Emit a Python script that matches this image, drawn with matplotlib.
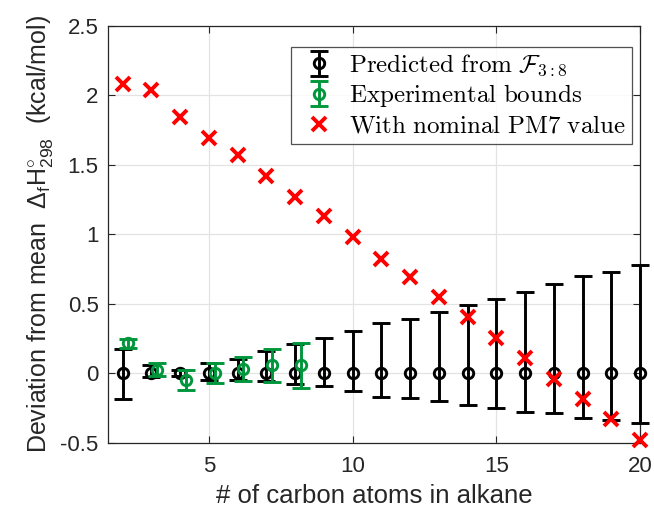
import matplotlib
matplotlib.use("Agg")
import matplotlib.pyplot as plt
from matplotlib.font_manager import FontProperties
from matplotlib.ticker import FuncFormatter

plt.rcParams["font.family"] = ["Liberation Sans", "DejaVu Sans"]
plt.rcParams["mathtext.fontset"] = "custom"
plt.rcParams["mathtext.rm"] = "Liberation Sans"
plt.rcParams["mathtext.it"] = "Liberation Sans:italic"
plt.rcParams["axes.unicode_minus"] = False

# predicted spread from the 3:8 fit (mean sits at zero)
n_pred = list(range(2, 21))
pred_mean = [0.0] * 19
pred_upper = [0.17, 0.06, 0.02, 0.07, 0.10, 0.16, 0.21, 0.25, 0.30, 0.36,
              0.39, 0.44, 0.49, 0.53, 0.58, 0.64, 0.70, 0.73, 0.78]
pred_lower = [-0.19, -0.03, -0.02, -0.05, -0.05, -0.06, -0.08, -0.09, -0.13, -0.17,
              -0.18, -0.20, -0.23, -0.25, -0.28, -0.29, -0.32, -0.34, -0.36]

# experimental bounds, C2..C8 (drawn slightly right of the prediction)
n_exp = [2, 3, 4, 5, 6, 7, 8]
exp_mid = [0.215, 0.025, -0.048, 0.0, 0.03, 0.06, 0.055]
exp_upper = [0.247, 0.074, 0.019, 0.074, 0.115, 0.17, 0.216]
exp_lower = [0.182, -0.024, -0.12, -0.072, -0.06, -0.065, -0.108]
exp_shift = 0.2

# nominal PM7 deviation
pm7 = [2.08, 2.04, 1.84, 1.69, 1.57, 1.42, 1.27, 1.13, 0.98, 0.82,
       0.69, 0.55, 0.40, 0.25, 0.11, -0.04, -0.19, -0.33, -0.48]

GREEN = "#00963c"
TXT = "#262626"

fig = plt.figure(figsize=(6.54, 5.12), dpi=100)
ax = fig.add_axes([0.1655, 0.1357, 0.8131, 0.8141])

yerr_p = [[m - lo for m, lo in zip(pred_mean, pred_lower)],
          [hi - m for m, hi in zip(pred_mean, pred_upper)]]
eb1 = ax.errorbar(n_pred, pred_mean, yerr=yerr_p, fmt="o", color="black",
                  mfc="none", ms=7.5, mew=2.1, elinewidth=2.1, capsize=6.5,
                  capthick=2.1, zorder=3)

x_exp = [n + exp_shift for n in n_exp]
yerr_e = [[m - lo for m, lo in zip(exp_mid, exp_lower)],
          [hi - m for m, hi in zip(exp_mid, exp_upper)]]
eb2 = ax.errorbar(x_exp, exp_mid, yerr=yerr_e, fmt="o", color=GREEN,
                  mfc="none", ms=7.5, mew=2.1, elinewidth=2.1, capsize=6.5,
                  capthick=2.1, zorder=4)

pm, = ax.plot(n_pred, pm7, "x", color="red", ms=10, mew=2.8, ls="none", zorder=5)

for art in ax.get_children():
    try:
        art.set_clip_on(False)
    except Exception:
        pass

ax.set_xlim(1.5, 20)
ax.set_ylim(-0.5, 2.5)
ax.set_xticks([5, 10, 15, 20])
ax.set_yticks([-0.5, 0, 0.5, 1, 1.5, 2, 2.5])
ax.yaxis.set_major_formatter(FuncFormatter(lambda v, p: f"{v:g}"))
ax.grid(True, color="#e3e3e3", lw=0.9)
ax.set_axisbelow(True)
ax.tick_params(direction="in", length=5, width=0.8, top=True, right=True,
               labelsize=16, colors=TXT)
ax.tick_params(axis="x", pad=10)
ax.tick_params(axis="y", pad=7)
for s in ax.spines.values():
    s.set_color(TXT)
    s.set_linewidth(0.9)

ax.set_xlabel("# of carbon atoms in alkane", fontsize=18.5, color=TXT, labelpad=5)
ax.set_ylabel(r"Deviation from mean  $\Delta_{\mathrm{f}}\mathrm{H}^{\circ}_{298}$  (kcal/mol)",
              fontsize=18, color=TXT, labelpad=4)

labels = [r"$\mathrm{Predicted\ from\ }\mathcal{F}_{3:8}$",
          r"$\mathrm{Experimental\ bounds}$",
          r"$\mathrm{With\ nominal\ PM7\ value}$"]
leg = ax.legend([eb1, eb2, pm], labels, loc="upper right",
                bbox_to_anchor=(0.985, 0.95), borderaxespad=0.0,
                prop=FontProperties(size=18, math_fontfamily="cm"),
                frameon=True, fancybox=False, edgecolor="#262626",
                handlelength=1.7, handletextpad=0.35, borderpad=0.25,
                labelspacing=0.16)
leg.get_frame().set_linewidth(0.9)

fig.savefig("out.png", dpi=100)
